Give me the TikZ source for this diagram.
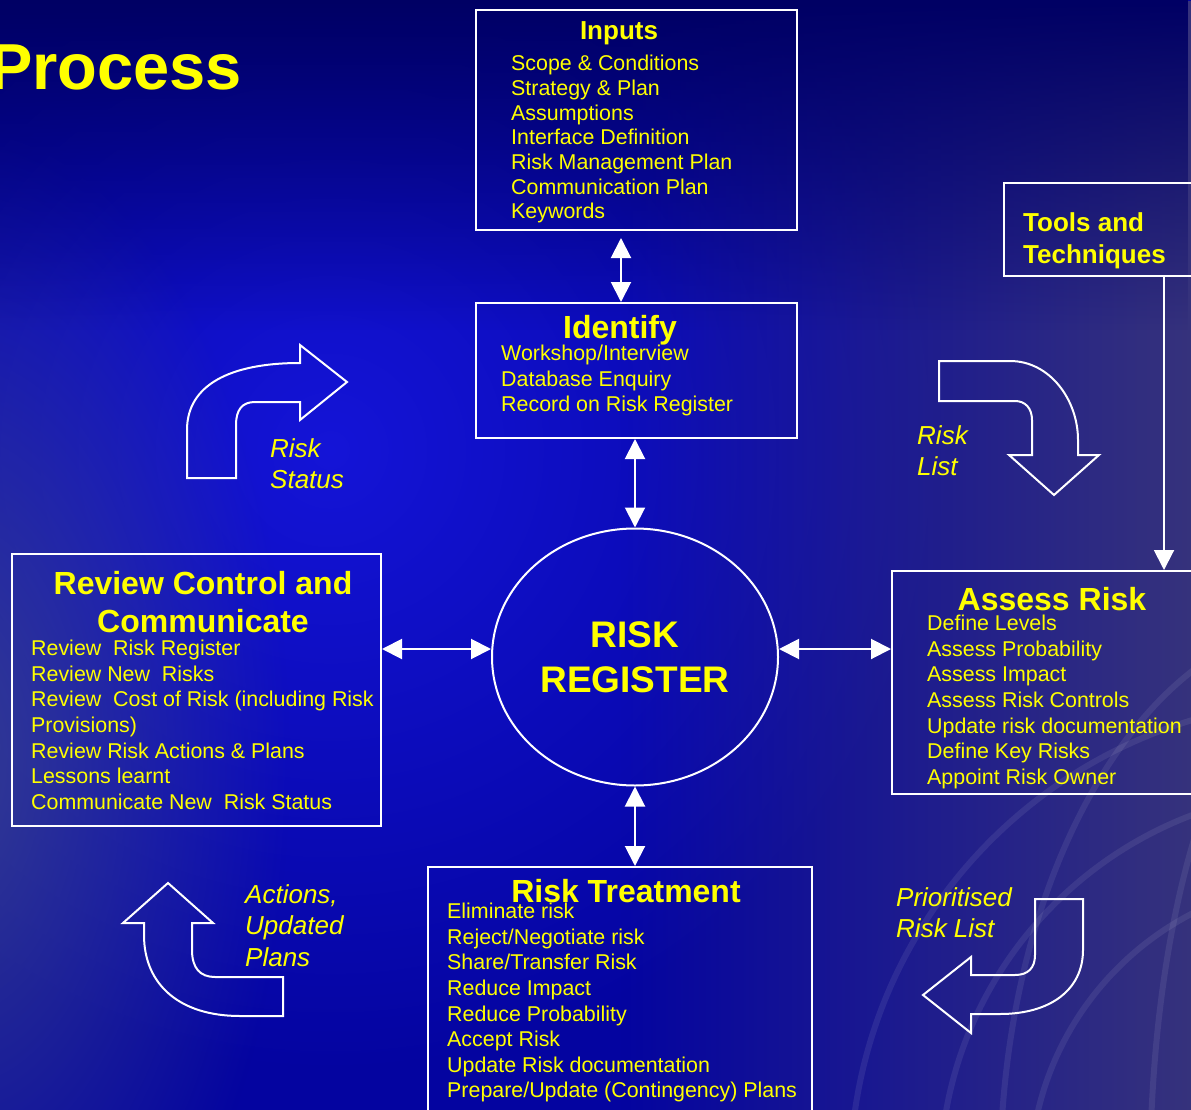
\documentclass[tikz,border=0pt]{standalone}
\usepackage{fontspec}
\setmainfont{Liberation Sans}
\usetikzlibrary{shapes.geometric, arrows.meta, positioning, fadings}
\definecolor{bgNavy}{RGB}{0,0,100}
\definecolor{bgBlue}{RGB}{4,4,160}
\definecolor{bgGlow}{RGB}{20,20,215}
\definecolor{bgHaze}{RGB}{60,56,120}
\definecolor{bgEdge}{RGB}{62,72,140}
\definecolor{txtYellow}{RGB}{255,255,0}
\tikzfading[name=softspot, inner color=transparent!0, outer color=transparent!100]

\begin{document}
\begin{tikzpicture}[x=1pt, y=-1pt,
    box/.style={draw=white, line width=2pt, rectangle, inner sep=0pt, anchor=north west},
    ttl/.style={text=txtYellow, font=\fontsize{32}{38}\selectfont\bfseries, align=center, inner sep=0pt},
    body/.style={text=txtYellow, font=\fontsize{21.4}{25.6}\selectfont, align=left, anchor=north west, inner sep=0pt},
    lbl/.style={text=txtYellow, font=\fontsize{26}{31.5}\selectfont\itshape, align=left, anchor=north west, inner sep=0pt},
    bigarrow/.style={draw=white, line width=2pt, line join=miter},
    dbl/.style={draw=white, line width=2pt, {Triangle[width=20pt,length=20pt]}-{Triangle[width=20pt,length=20pt]}},
    sgl/.style={draw=white, line width=2pt, -{Triangle[width=20pt,length=20pt]}}]
    \useasboundingbox (0,0) rectangle (1191,1110);
    \clip (0,0) rectangle (1191,1110);

    % background
    \fill[bgBlue] (0,0) rectangle (1191,1110);
    \shade[inner color=bgGlow, outer color=bgBlue] (330,450) circle (620);
    \fill[bgHaze, path fading=west] (620,0) rectangle (1260,1110);
    \fill[bgEdge, opacity=0.8, path fading=softspot] (-40,760) ellipse (330 and 640);
    \fill[bgNavy, path fading=south] (0,0) rectangle (1191,330);
    \begin{scope}[draw=white, opacity=0.08, line width=6pt]
        \draw (1330,1180) circle (300);
        \draw (1330,1180) circle (390);
        \draw (1330,1180) circle (480);
        \draw (1330,1180) ellipse (180 and 520);
        \draw (1330,1180) ellipse (330 and 560);
    \end{scope}

    \node[anchor=base west, text=txtYellow, font=\fontsize{65}{78}\selectfont\bfseries, inner sep=0pt] (title) at (-11,90) {Process};

    % boxes
    \node[box, minimum width=321pt, minimum height=220pt] (inputs) at (475,9) {};
    \node[box, minimum width=321pt, minimum height=135pt] (identify) at (475,302) {};
    \node[draw=white, line width=2pt, ellipse, minimum width=286pt, minimum height=257pt, inner sep=0pt,
          text=txtYellow, font=\fontsize{37}{45}\selectfont\bfseries, align=center] (reg) at (635,657) {RISK\\REGISTER};
    \node[box, minimum width=369pt, minimum height=272pt] (review) at (11,553) {};
    \node[box, minimum width=320pt, minimum height=223pt] (assess) at (891,570) {};
    \node[box, minimum width=384pt, minimum height=270pt] (treat) at (427,866) {};
    \node[box, minimum width=200pt, minimum height=93pt] (tools) at (1003,182) {};

    % box texts
    \node[ttl, font=\fontsize{26}{32}\selectfont\bfseries] (inputsT) at (619,33) {Inputs};
    \node[body, font=\fontsize{21.4}{24.7}\selectfont] (inputsB) at (511,55) {Scope \& Conditions\\Strategy \& Plan\\Assumptions\\Interface Definition\\Risk Management Plan\\Communication Plan\\Keywords};
    \node[ttl] (identifyT) at (620,330) {Identify};
    \node[body] (identifyB) at (501,345) {Workshop/Interview\\Database Enquiry\\Record on Risk Register};
    \node[ttl] (reviewT) at (203,602) {Review Control and\\Communicate};
    \node[body] (reviewB) at (31,640) {Review\ \ Risk Register\\Review New\ \ Risks\\Review\ \ Cost of Risk (including Risk\\Provisions)\\Review Risk Actions \& Plans\\Lessons learnt\\Communicate New\ \ Risk Status};
    \node[ttl] (assessT) at (1052,599) {Assess Risk};
    \node[body] (assessB) at (927,615) {Define Levels\\Assess Probability\\Assess Impact\\Assess Risk Controls\\Update risk documentation\\Define Key Risks\\Appoint Risk Owner};
    \node[ttl] (treatT) at (626,891) {Risk Treatment};
    \node[body] (treatB) at (447,903) {Eliminate risk\\Reject/Negotiate risk\\Share/Transfer Risk\\Reduce Impact\\Reduce Probability\\Accept Risk\\Update Risk documentation\\Prepare/Update (Contingency) Plans};
    \node[ttl, anchor=north west, align=left, font=\fontsize{26}{32}\selectfont\bfseries] (toolsT) at (1023,212) {Tools and\\Techniques};

    % connectors
    \draw[dbl, shorten <=7pt] ([xshift=-15.5pt]inputs.south) -- ([xshift=-15.5pt]identify.north);
    \draw[dbl] (reg.north |- identify.south) -- (reg.north);
    \coordinate (rl) at ([yshift=8pt]reg.west);
    \coordinate (rr) at ([yshift=8pt]reg.east);
    \draw[dbl] (review.east |- rl) -- (rl);
    \draw[dbl] (rr) -- (assess.west |- rr);
    \draw[dbl] (reg.south) -- (treat.north -| reg.south);
    \coordinate (tdrop) at ([xshift=60pt]tools.south);
    \draw[sgl] (tdrop) -- (tdrop |- assess.north);

    % curved block arrows
    \draw[bigarrow] (187,478) -- (187,430) .. controls (187,385) and (230,363) .. (300,363) -- (300,345) -- (347,382)
        -- (300,420) -- (300,402) -- (255,402) .. controls (242,402) and (236,410) .. (236,425) -- (236,478) -- cycle;
    \draw[bigarrow] (939,361) -- (1010,361) .. controls (1050,361) and (1078,400) .. (1078,440) -- (1078,455) -- (1099,455)
        -- (1054,495) -- (1009,455) -- (1032,455) -- (1032,420) .. controls (1032,408) and (1025,401) .. (1015,401) -- (939,401) -- cycle;
    \draw[bigarrow] (168,883) -- (213,923) -- (192,923) -- (192,950) .. controls (192,968) and (200,977) .. (215,977)
        -- (283,977) -- (283,1016) -- (240,1016) .. controls (180,1016) and (144,985) .. (144,935) -- (144,923) -- (123,923) -- cycle;
    \draw[bigarrow] (1035,899) -- (1083,899) -- (1083,950) .. controls (1083,990) and (1050,1014) .. (1000,1014) -- (971,1014)
        -- (971,1033) -- (923,995) -- (971,957) -- (971,975) -- (1015,975) .. controls (1028,975) and (1035,968) .. (1035,955) -- cycle;

    \node[lbl] (status) at (270,438) {Risk\\Status};
    \node[lbl] (list) at (917,425) {Risk\\List};
    \node[lbl] (actions) at (245,884) {Actions,\\Updated\\Plans};
    \node[lbl] (prio) at (896,887) {Prioritised\\Risk List};
\end{tikzpicture}
\end{document}
